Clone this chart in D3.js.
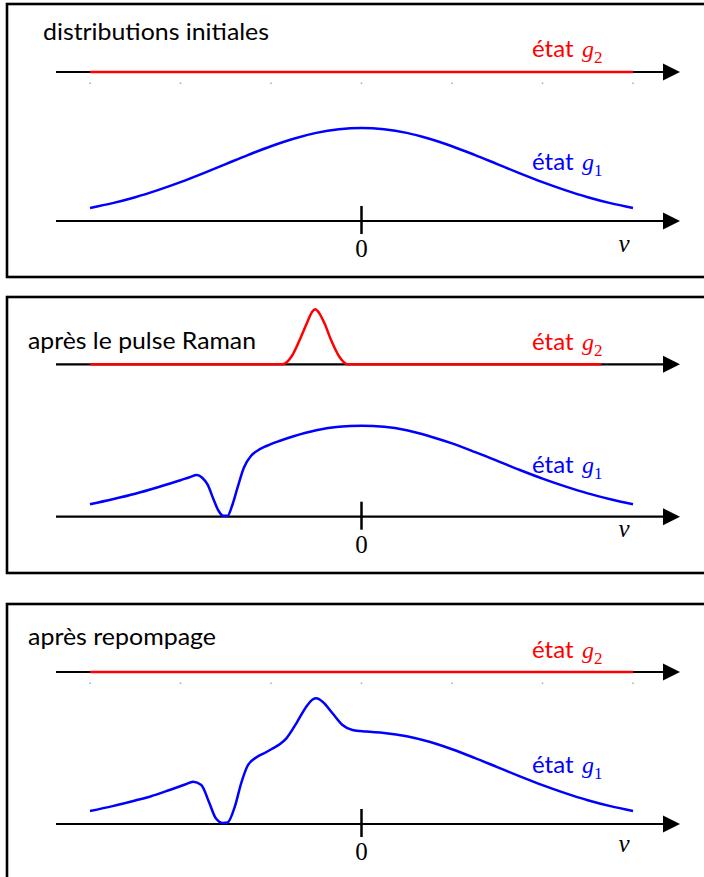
<!DOCTYPE html>
<html><head><meta charset="utf-8">
<script src="https://cdn.jsdelivr.net/npm/d3@7"></script>
<style>body{margin:0;background:#fff}svg{display:block}</style>
</head><body>
<svg id="c" width="704" height="877"></svg>
<script>
// ---------- data ----------
const panelTitles = ["distributions initiales", "après le pulse Raman", "après repompage"];
const velocityTicks = [-3, -2, -1, 0, 1, 2, 3];
const zeroLabel = "0";
const axisLabel = "v";

// panel 1 : initial distributions
const g2InitV = [-3, 3];
const g2Init  = [0, 0];
const g1InitV = [-3,-2.75,-2.5,-2.25,-2,-1.75,-1.5,-1.25,-1,-0.75,-0.5,-0.25,0,0.25,0.5,0.75,1,1.25,1.5,1.75,2,2.25,2.5,2.75,3];
const g1Init  = [13.1,17.9,23.8,30.9,38.9,47.7,56.9,66.1,74.8,82.3,88.1,91.7,93,91.7,88.1,82.3,74.8,66.1,56.9,47.7,38.9,30.9,23.8,17.9,13.1];

// panel 2 : after Raman pulse
const g2RamanV = [-3,-0.873,-0.777,-0.685,-0.604,-0.541,-0.51,-0.486,-0.409,-0.335,-0.243,-0.155,2.65];
const g2Raman  = [0,0,7.3,24,41,53,55,53.5,41,24,7.3,0,0];
const g1RamanV = [-3,-2.75,-2.5,-2.25,-2,-1.9,-1.82,-1.76,-1.7,-1.64,-1.58,-1.53,-1.48,-1.43,-1.37,-1.3,-1.22,-1.15,-1.05,-0.9,-0.75,-0.5,-0.25,0,0.25,0.5,0.75,1,1.25,1.5,1.75,2,2.25,2.5,2.75,3];
const g1Raman  = [12.5,17.5,23,29.5,36.5,39.5,41.7,39,32,18.5,6,1,1,11,29,49,61,66,70.7,76,80.5,86.5,90,91,90,86.5,80.5,73.3,64.8,55.8,46.7,38.1,30.3,23.3,17.5,12.5];

// panel 3 : after repumping
const g2RepV = [-3, 3];
const g2Rep  = [0, 0];
const g1RepV = [-3,-2.75,-2.5,-2.34,-2.12,-1.95,-1.86,-1.77,-1.68,-1.61,-1.53,-1.48,-1.4,-1.33,-1.26,-1.16,-1.07,-0.98,-0.9,-0.83,-0.72,-0.61,-0.54,-0.5,-0.43,-0.32,-0.21,-0.1,0.05,0.25,0.5,0.75,1,1.25,1.5,1.75,2,2.25,2.5,2.75,3];
const g1Rep  = [13,17.9,23.5,27.3,34,39.5,42.3,39,20.7,5.7,1,1.5,17.3,40.7,58,66.7,71,75.7,80,85.7,100.7,117.3,124.5,125.7,122.3,110.7,99,94,92.4,91.1,87.8,82.2,74.8,66.1,56.9,47.7,38.9,30.9,23.8,17.9,13.1];

// ---------- layout ----------
const panels = [
  {top:4,   bottom:277, redY:72,    axisY:221,   titleX:43, titleY:40,  titleW:226, g2Y:57,  g1Y:170, zeroY:257, vY:252, dots:true,
   g2v:g2InitV, g2:g2Init, g1v:g1InitV, g1:g1Init},
  {top:297, bottom:573, redY:364.3, axisY:516.7, titleX:28, titleY:349, titleW:228, g2Y:350, g1Y:473, zeroY:553, vY:537, dots:false,
   g2v:g2RamanV, g2:g2Raman, g1v:g1RamanV, g1:g1Raman},
  {top:604, bottom:890, redY:672,   axisY:824,   titleX:28, titleY:645, titleW:188, g2Y:658, g1Y:773, zeroY:860, vY:852, dots:true,
   g2v:g2RepV, g2:g2Rep, g1v:g1RepV, g1:g1Rep}
];

const svg = d3.select("#c");
const x = d3.scaleLinear().domain([-3, 3]).range([90, 633]);
const sans = "Lato, 'Open Sans', sans-serif";
const serif = "'Liberation Serif', 'DejaVu Serif', serif";

function arrowAxis(g, y) {
  g.append("line").attr("x1", 56).attr("x2", 666).attr("y1", y).attr("y2", y)
    .attr("stroke", "#000").attr("stroke-width", 2.2);
  g.append("path").attr("d", `M663,${y-8.5} L680,${y} L663,${y+8.5} Z`).attr("fill", "#000");
}

function stateLabel(g, y, color, sub) {
  const t = g.append("text").attr("x", 532).attr("y", y).attr("fill", color)
    .attr("font-family", sans).attr("font-size", 24);
  t.append("tspan").text("état ");
  t.append("tspan").attr("x", 582).attr("font-family", serif).attr("font-style", "italic").attr("font-size", 24).text("g");
  t.append("tspan").attr("x", 594).attr("dy", 6).attr("font-family", serif).attr("font-size", 17).text(sub);
}

panels.forEach((p, i) => {
  const g = svg.append("g");
  g.append("rect").attr("x", 7).attr("y", p.top).attr("width", 700).attr("height", p.bottom - p.top)
    .attr("fill", "none").attr("stroke", "#000").attr("stroke-width", 2.6);

  const yr = d3.scaleLinear().domain([0, 100]).range([p.redY, p.redY - 100]);
  const yb = d3.scaleLinear().domain([0, 100]).range([p.axisY, p.axisY - 100]);

  // title
  g.append("text").attr("x", p.titleX).attr("y", p.titleY).attr("font-family", sans).attr("font-size", 24)
    .attr("textLength", p.titleW).attr("lengthAdjust", "spacingAndGlyphs").attr("fill", "#000").text(panelTitles[i]);

  // upper axis (g2)
  arrowAxis(g, p.redY);
  if (p.dots) {
    g.selectAll("rect.dot").data(velocityTicks).enter().append("rect")
      .attr("x", d => x(d) - 0.75).attr("y", p.redY + 10.5).attr("width", 1.5).attr("height", 1.5).attr("fill", "#aaa");
  }
  const lineR = d3.line().x((d, j) => x(p.g2v[j])).y(d => yr(d)).curve(d3.curveMonotoneX);
  g.append("path").attr("d", lineR(p.g2)).attr("fill", "none").attr("stroke", "#ff0000").attr("stroke-width", 2.5);
  stateLabel(g, p.g2Y, "#ff0000", "2");

  // lower axis (g1)
  arrowAxis(g, p.axisY);
  g.append("line").attr("x1", x(0)).attr("x2", x(0)).attr("y1", p.axisY - 15).attr("y2", p.axisY + 13)
    .attr("stroke", "#000").attr("stroke-width", 2.5);
  g.append("text").attr("x", x(0)).attr("y", p.zeroY).attr("text-anchor", "middle")
    .attr("font-family", serif).attr("font-size", 25).text(zeroLabel);
  g.append("text").attr("x", 624).attr("y", p.vY).attr("text-anchor", "middle")
    .attr("font-family", serif).attr("font-style", "italic").attr("font-size", 25).text(axisLabel);

  const lineB = d3.line().x((d, j) => x(p.g1v[j])).y(d => yb(d)).curve(d3.curveMonotoneX);
  g.append("path").attr("d", lineB(p.g1)).attr("fill", "none").attr("stroke", "#0000ff").attr("stroke-width", 2.5)
    .attr("stroke-linejoin", "round");
  stateLabel(g, p.g1Y, "#0000ff", "1");
});
</script>
</body></html>
